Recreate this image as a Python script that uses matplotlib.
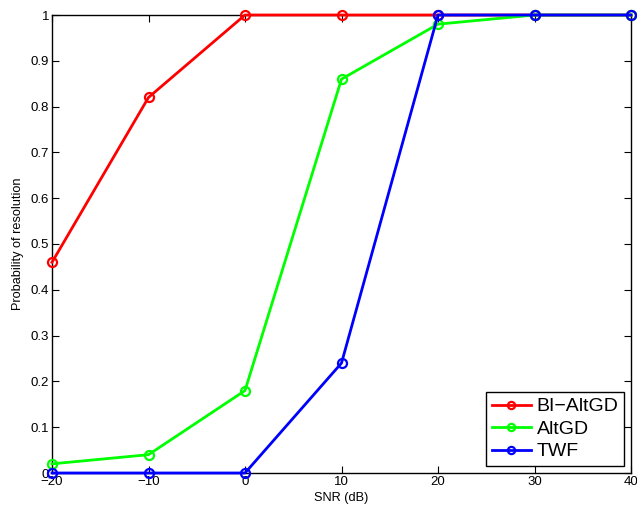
import matplotlib
matplotlib.use("Agg")
import matplotlib.pyplot as plt

plt.rcParams['font.family'] = ['Liberation Sans', 'DejaVu Sans']

snr = [-20, -10, 0, 10, 20, 30, 40]
bi_altgd = [0.46, 0.82, 1.0, 1.0, 1.0, 1.0, 1.0]
altgd = [0.02, 0.04, 0.18, 0.86, 0.98, 1.0, 1.0]
twf = [0.0, 0.0, 0.0, 0.24, 1.0, 1.0, 1.0]

fig = plt.figure(figsize=(6.37, 5.12), dpi=100)
ax = fig.add_axes([52/637, 1-473/512, (631-52)/637, (473-15)/512])

kw = dict(linewidth=2, marker='o', markersize=6.5, markerfacecolor='none', markeredgewidth=1.6, clip_on=False, zorder=3)
ax.plot(snr, bi_altgd, color='#ff0000', label='BI\u2212AltGD', **kw)
ax.plot(snr, altgd, color='#00ff00', label='AltGD', **kw)
ax.plot(snr, twf, color='#0000ff', label='TWF', **kw)

ax.set_xlim(-20, 40)
ax.set_ylim(0, 1)
ax.set_xticks([-20, -10, 0, 10, 20, 30, 40])
ax.set_yticks([0, 0.1, 0.2, 0.3, 0.4, 0.5, 0.6, 0.7, 0.8, 0.9, 1])
ax.set_yticklabels(['0', '0.1', '0.2', '0.3', '0.4', '0.5', '0.6', '0.7', '0.8', '0.9', '1'])
ax.tick_params(direction='in', top=True, right=True, labelsize=9.5, length=5, width=0.8, pad=2)
for s in ax.spines.values():
    s.set_linewidth(1.0)
ax.set_xlabel('SNR (dB)', fontsize=9.2, labelpad=3)
ax.set_ylabel('Probability of resolution', fontsize=9.2, labelpad=5)

leg = ax.legend(loc='lower right', fontsize=14, fancybox=False, framealpha=1, edgecolor='black',
                handlelength=2.0, borderpad=0.3, labelspacing=0.25, handletextpad=0.3, borderaxespad=0.35,
                markerscale=0.8)
leg.get_frame().set_linewidth(1.0)

fig.savefig('out.png', dpi=100)
